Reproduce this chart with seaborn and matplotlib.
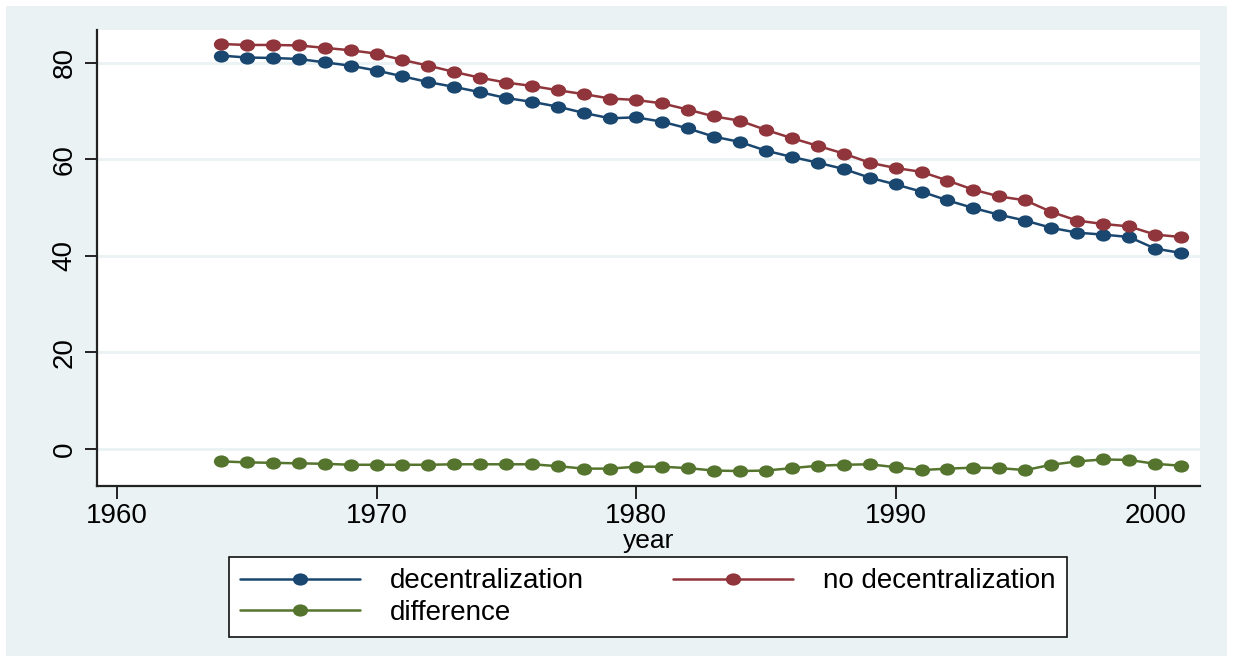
import matplotlib
matplotlib.use("Agg")
import matplotlib.pyplot as plt
import pandas as pd
import seaborn as sns
from matplotlib.lines import Line2D
from matplotlib.markers import MarkerStyle
from matplotlib.patches import Rectangle
from matplotlib.transforms import Affine2D

# data
years = list(range(1964, 2002))
decentral = [81.5, 81.1, 81.0, 80.8, 80.1, 79.4, 78.4, 77.2, 76.0, 75.0,
             73.9, 72.7, 71.9, 70.9, 69.6, 68.5, 68.7, 67.8, 66.4, 64.7,
             63.6, 61.8, 60.5, 59.3, 58.0, 56.2, 54.8, 53.3, 51.5, 49.9,
             48.5, 47.3, 45.8, 44.8, 44.4, 43.9, 41.5, 40.6]
no_decentral = [83.9, 83.7, 83.7, 83.6, 83.1, 82.6, 81.9, 80.6, 79.4, 78.1,
                76.9, 75.9, 75.2, 74.3, 73.5, 72.6, 72.3, 71.6, 70.3, 68.9,
                68.0, 66.1, 64.4, 62.8, 61.2, 59.3, 58.2, 57.4, 55.6, 53.7,
                52.3, 51.5, 49.1, 47.3, 46.6, 46.1, 44.4, 43.9]
difference = [-2.6, -2.8, -2.9, -3.0, -3.1, -3.3, -3.3, -3.3, -3.3, -3.2,
              -3.2, -3.2, -3.2, -3.6, -4.1, -4.1, -3.7, -3.7, -4.0, -4.5,
              -4.6, -4.5, -4.0, -3.5, -3.3, -3.2, -3.8, -4.4, -4.1, -3.9,
              -4.0, -4.4, -3.3, -2.6, -2.2, -2.3, -3.1, -3.5]
series_names = ["decentralization", "no decentralization", "difference"]
series_colors = ["#1A476F", "#90353B", "#55752F"]

df = pd.DataFrame({
    "year": years * 3,
    "value": decentral + no_decentral + difference,
    "series": [n for n in series_names for _ in years],
})

sns.set_style("white")
plt.rcParams["font.family"] = ["Liberation Sans", "DejaVu Sans"]
plt.rcParams["text.color"] = "black"
plt.rcParams["axes.labelcolor"] = "black"

fig = plt.figure(figsize=(12.33, 6.62), dpi=100)
fig.patch.set_facecolor("white")
fig.patches.append(Rectangle((6 / 1233, 6 / 662), 1221 / 1233, 650 / 662,
                             transform=fig.transFigure, facecolor="#EAF2F3",
                             edgecolor="none", zorder=-10))
ax = fig.add_axes([97 / 1233, 176 / 662, 1103 / 1233, 456 / 662])
ax.set_facecolor("white")

oval = MarkerStyle("o", transform=Affine2D().scale(1.25, 1.0))
sns.lineplot(data=df, x="year", y="value", hue="series", hue_order=series_names,
             palette=dict(zip(series_names, series_colors)), marker=oval,
             markersize=8.8, markeredgewidth=0, linewidth=1.8, ax=ax, legend=False)

ax.set_xlim(1959.23, 2001.73)
ax.set_ylim(-7.7, 86.8)
ax.set_xticks([1960, 1970, 1980, 1990, 2000])
ax.set_yticks([0, 20, 40, 60, 80])
ax.yaxis.grid(True, color="#EAF2F3", linewidth=2)
ax.xaxis.grid(False)
ax.set_axisbelow(True)
for s in ["top", "right"]:
    ax.spines[s].set_visible(False)
for s in ["left", "bottom"]:
    ax.spines[s].set_color("#222222")
    ax.spines[s].set_linewidth(1.6)
ax.tick_params(axis="both", direction="out", length=9, width=1.4, color="#222222",
               labelcolor="black", labelsize=20, pad=5, bottom=True, left=True)
ax.tick_params(axis="x", pad=3)
for lab in ax.get_yticklabels():
    lab.set_rotation(90)
    lab.set_va("center")
ax.set_xlabel("year", fontsize=19, labelpad=0)
ax.set_ylabel("")

handles = [Line2D([], [], color=c, linewidth=1.8, marker=oval, markersize=8.8,
                  markeredgewidth=0) for c in series_colors]
order = [0, 2, 1]
leg = fig.legend([handles[i] for i in order], [series_names[i] for i in order],
                 ncol=2, loc="center", bbox_to_anchor=(648 / 1233, 65 / 662),
                 fontsize=20, frameon=True, fancybox=False, framealpha=1,
                 facecolor="white", handlelength=4.3, handletextpad=1.1,
                 columnspacing=3.2, labelspacing=0.2, borderpad=0.4,
                 borderaxespad=0)
leg.get_frame().set_edgecolor("#111111")
leg.get_frame().set_linewidth(1.2)

fig.savefig("out.png", dpi=100, facecolor=fig.get_facecolor())
